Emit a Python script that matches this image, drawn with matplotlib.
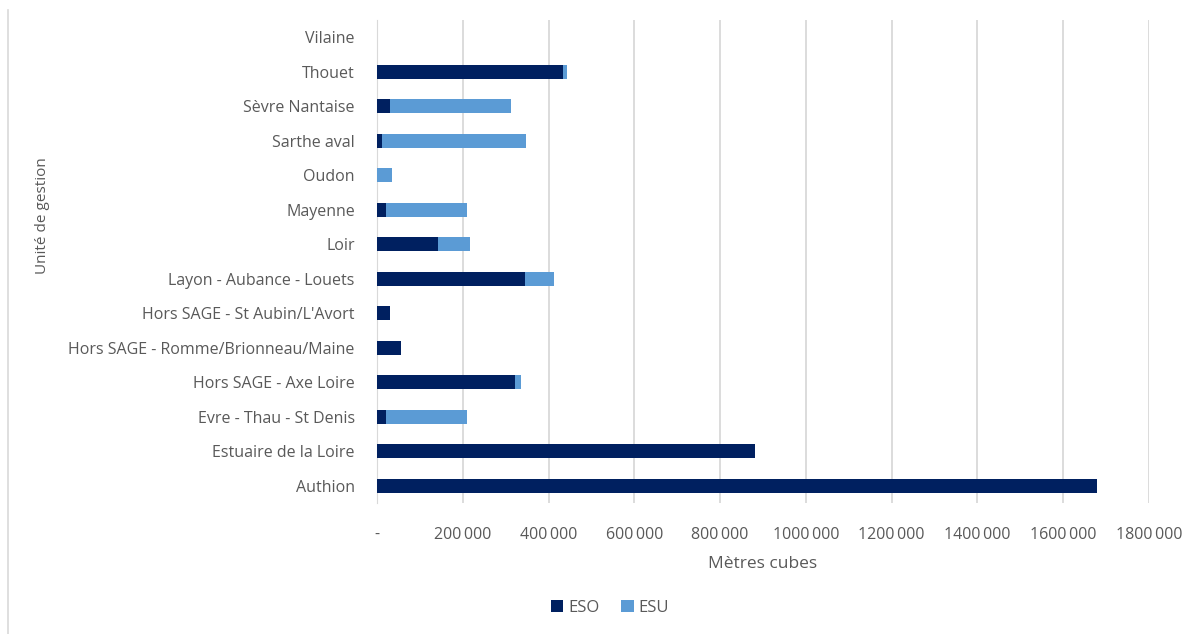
"""
Stacked horizontal bars: volumes ESO / ESU par unité de gestion
"""

import matplotlib.pyplot as plt
import matplotlib.ticker as mticker
from matplotlib.lines import Line2D
import numpy as np

# data (bottom to top)
unites = ["Authion", "Estuaire de la Loire", "Evre - Thau - St Denis",
          "Hors SAGE - Axe Loire", "Hors SAGE - Romme/Brionneau/Maine",
          "Hors SAGE - St Aubin/L'Avort", "Layon - Aubance - Louets", "Loir",
          "Mayenne", "Oudon", "Sarthe aval", "Sèvre Nantaise", "Thouet", "Vilaine"]
eso = [1679000, 882000, 21700, 321000, 56800, 30400, 346000, 142000,
       21800, 0, 11000, 30400, 433000, 0]
esu = [0, 0, 187000, 15500, 0, 0, 67000, 76000,
       189000, 35000, 336000, 283000, 10000, 0]

grey = "#595959"


def fmt(v, pos):
    # Excel style: "-" for zero, thin space before last group only
    v = int(round(v))
    if v == 0:
        return "-"
    return f"{v // 1000}\u2009{v % 1000:03d}"


if __name__ == "__main__":
    plt.rcParams['font.family'] = ['Open Sans', 'DejaVu Sans']

    fig = plt.figure(figsize=(11.98, 6.34), dpi=100)
    ax = fig.add_axes([377 / 1198, 1 - 503 / 634, (1149 - 377) / 1198, (503 - 20) / 634])

    y = np.arange(len(unites))
    ax.barh(y, eso, height=0.41, color="#002060", label="ESO", zorder=3)
    ax.barh(y, esu, left=eso, height=0.41, color="#5B9BD5", label="ESU", zorder=3)

    ax.set_xlim(0, 1800000)
    ax.set_ylim(-0.5, len(unites) - 0.5)
    ax.xaxis.set_major_locator(mticker.MultipleLocator(200000))
    ax.xaxis.set_major_formatter(mticker.FuncFormatter(fmt))
    ax.set_yticks(y)
    ax.set_yticklabels(unites)

    ax.grid(axis="x", color="#D9D9D9", linewidth=1.3, zorder=0)
    for s in ["top", "right", "bottom"]:
        ax.spines[s].set_visible(False)
    ax.spines["left"].set_color("#D9D9D9")
    ax.tick_params(axis="both", length=0, colors=grey)
    ax.tick_params(axis="y", pad=16, labelsize=11.5)
    ax.tick_params(axis="x", pad=17, labelsize=11.5)

    ax.set_xlabel("Mètres cubes", color=grey, fontsize=12.5, labelpad=10)
    fig.text(42 / 1198, 1 - 216 / 634, "Unité de gestion", rotation=90,
             ha="center", va="center", color=grey, fontsize=11)

    fig.legend(loc="center", bbox_to_anchor=(610 / 1198, 1 - 608 / 634), ncol=2,
               frameon=False, fontsize=12, labelcolor=grey, handlelength=0.75,
               handleheight=0.75, handletextpad=0.3, columnspacing=1.3)

    # frame line on the left of the image
    fig.add_artist(Line2D([8 / 1198, 8 / 1198], [0, 1 - 10 / 634],
                          transform=fig.transFigure, color="#D9D9D9", linewidth=1.2))

    fig.savefig("out.png", dpi=100)
